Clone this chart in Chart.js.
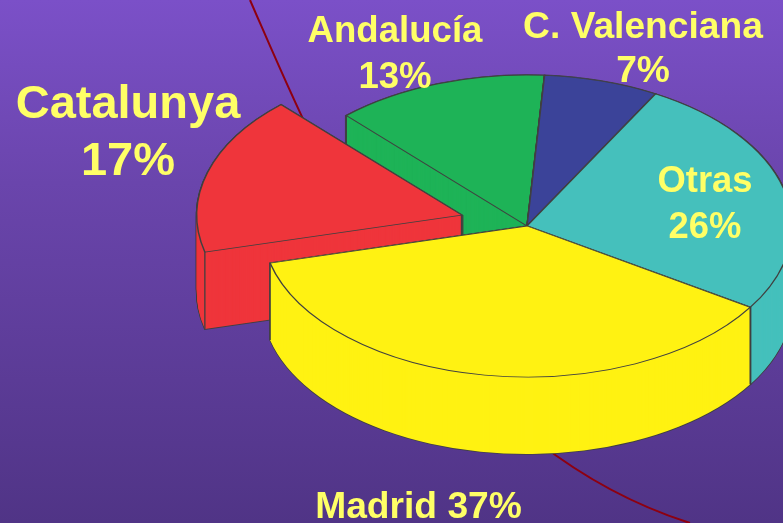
<!DOCTYPE html>
<html>
<head>
<meta charset="utf-8">
<style>
html,body{margin:0;padding:0;width:783px;height:523px;overflow:hidden;background:linear-gradient(180deg,#7B50C8 0%,#6A45AC 35%,#503486 100%);}
#c{display:block;}
</style>
<script src="https://cdn.jsdelivr.net/npm/chart.js@4"></script>
</head>
<body>
<canvas id="c" width="783" height="523"></canvas>
<script>
const categories = ['Andalucía', 'C. Valenciana', 'Otras', 'Madrid', 'Catalunya'];
const shares = [13, 7, 26, 37, 17];
const explode = [0, 0, 0, 0, 68];
const colours = ['#1EB357', '#3B4399', '#45C0BC', '#FFF212', '#EF353B'];
const paintOrder = [0, 1, 2, 4, 3];

const squash = 151 / 265;
const depth = 77;
const edge = '#404040';
const textColour = '#FFFF66';

const labelLayout = [
  {i: 4, size: 47, name: [128, 118], pct: [128, 175]},
  {i: 0, size: 36.6, name: [395, 42], pct: [395, 88]},
  {i: 1, size: 37.2, name: [643, 38], pct: [643, 82]},
  {i: 2, size: 36.4, name: [705, 192], pct: [705, 238]},
  {i: 3, size: 37.2, inline: [418.5, 518]}
];

function geom(el, off) {
  const p = el.getProps(['x', 'y', 'startAngle', 'endAngle', 'outerRadius']);
  const mid = (p.startAngle + p.endAngle) / 2;
  return {
    dx: Math.cos(mid) * off,
    dy: Math.sin(mid) * off,
    cx: p.x + Math.cos(mid) * off,
    cy: p.y + Math.sin(mid) * off,
    r: p.outerRadius,
    s: p.startAngle,
    e: p.endAngle
  };
}
function wedge(ctx, g) {
  ctx.beginPath();
  ctx.moveTo(g.cx, g.cy);
  ctx.arc(g.cx, g.cy, g.r, g.s, g.e);
  ctx.closePath();
}

const pie3d = {
  id: 'pie3d',
  beforeDatasetsDraw(chart) {
    const ctx = chart.ctx;
    const meta = chart.getDatasetMeta(0);
    const midY = meta.data[0].y;

    // background swoosh behind the pie
    ctx.save();
    ctx.strokeStyle = '#8E0010';
    ctx.lineWidth = 2;
    ctx.beginPath();
    ctx.moveTo(250, 0);
    ctx.bezierCurveTo(320, 160, 430, 440, 690, 523);
    ctx.stroke();
    ctx.restore();

    const squashed = (d) => {
      ctx.translate(0, midY + d);
      ctx.scale(1, squash);
      ctx.translate(0, -midY);
    };

    paintOrder.forEach((idx) => {
      const el = meta.data[idx];
      const g = geom(el, explode[idx]);
      // silhouette of the extruded wall
      for (let d = depth; d >= 0; d--) {
        ctx.save();
        squashed(d);
        wedge(ctx, g);
        ctx.restore();
        ctx.strokeStyle = edge;
        ctx.lineWidth = 1.6;
        ctx.stroke();
      }
      // wall fill
      for (let d = depth; d >= 0; d--) {
        ctx.save();
        squashed(d);
        wedge(ctx, g);
        ctx.restore();
        ctx.fillStyle = colours[idx];
        ctx.fill();
      }
      // vertical edges at corners
      const pts = [[g.cx, g.cy],
        [g.cx + g.r * Math.cos(g.s), g.cy + g.r * Math.sin(g.s)],
        [g.cx + g.r * Math.cos(g.e), g.cy + g.r * Math.sin(g.e)]];
      ctx.strokeStyle = edge;
      ctx.lineWidth = 1.3;
      pts.forEach(([px, py]) => {
        const y = midY + (py - midY) * squash;
        ctx.beginPath();
        ctx.moveTo(px, y);
        ctx.lineTo(px, y + depth);
        ctx.stroke();
      });
      // top face, drawn by the library's own arc element
      ctx.save();
      squashed(0);
      ctx.translate(g.dx, g.dy);
      el.draw(ctx);
      ctx.restore();
    });

    // the labels
    ctx.fillStyle = textColour;
    ctx.textAlign = 'center';
    ctx.textBaseline = 'alphabetic';
    labelLayout.forEach((l) => {
      ctx.font = `bold ${l.size}px "Liberation Sans", Arial, sans-serif`;
      if (l.inline) {
        ctx.fillText(`${categories[l.i]} ${shares[l.i]}%`, l.inline[0], l.inline[1]);
      } else {
        ctx.fillText(categories[l.i], l.name[0], l.name[1]);
        ctx.fillText(`${shares[l.i]}%`, l.pct[0], l.pct[1]);
      }
    });
    return false;
  }
};

new Chart(document.getElementById('c'), {
  type: 'pie',
  data: {
    labels: categories,
    datasets: [{
      data: shares,
      backgroundColor: colours,
      borderColor: edge,
      borderWidth: 1.5
    }]
  },
  options: {
    responsive: false,
    animation: false,
    rotation: 317,
    radius: 265,
    layout: {padding: {left: 271, right: 0, top: 0, bottom: 71}},
    plugins: {legend: {display: false}, tooltip: {enabled: false}, title: {display: false}}
  },
  plugins: [pie3d]
});
</script>
</body>
</html>
